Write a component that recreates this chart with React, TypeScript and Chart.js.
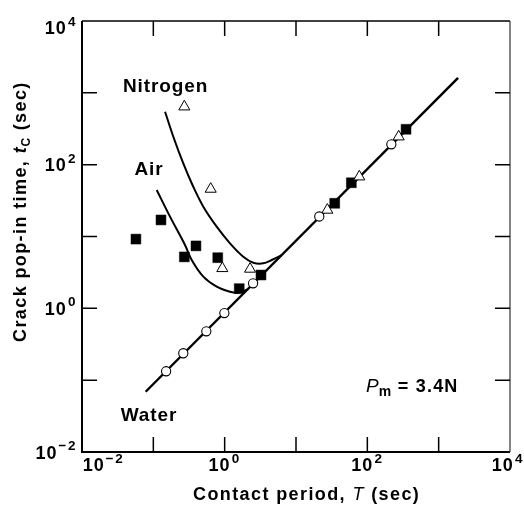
import React, { useEffect, useRef } from 'react';
import { Chart, registerables } from 'chart.js';

Chart.register(...registerables);

// Water (open circles)
const waterT = [0.151, 0.263, 0.553, 0.99, 2.5, 21.2, 217];
const waterTc = [0.133, 0.237, 0.479, 0.86, 2.23, 19.0, 192];
// Air (filled squares)
const airT = [0.057, 0.128, 0.272, 0.396, 0.8, 1.6, 3.23, 34.9, 59.7, 349];
const airTc = [9.2, 17.0, 5.2, 7.4, 5.07, 1.88, 2.91, 29, 56, 311];
// Nitrogen (open triangles)
const n2T = [0.272, 0.637, 0.927, 2.27, 27.5, 77.2, 275];
const n2Tc = [641, 45.8, 3.6, 3.53, 23.4, 68, 245];

// Fitted curves
const waterLineT = [0.078, 1870];
const waterLineTc = [0.069, 1620];
const n2CurveT = [0.146, 0.1906, 0.263, 0.363, 0.502, 0.773, 1.188, 1.825, 2.52, 3.48, 4.57, 6.3];
const n2CurveTc = [546, 245, 104.5, 49.3, 26.0, 13.7, 8.04, 5.23, 4.32, 4.23, 4.71, 5.5];
const airCurveT = [0.1115, 0.1713, 0.278, 0.345, 0.502, 0.773, 1.188, 1.553, 2.1];
const airCurveTc = [44.4, 18.9, 7.61, 4.71, 2.76, 2.0, 1.7, 1.65, 1.83];

const decadeExps = [-2, -1, 0, 1, 2, 3, 4];
const labelExps = [-2, 0, 2, 4];

const xTitleParts = ['Contact period, ', 'T', ' (sec)'];
const yTitleParts = ['Crack pop-in time, ', 't', 'C', ' (sec)'];
const curveLabels = ['Nitrogen', 'Air', 'Water'];
const loadParts = ['P', 'm', ' = 3.4N'];

const FAM = '"Liberation Sans", Arial, Helvetica, sans-serif';
const B18 = `bold 18px ${FAM}`;

const pts = (xs: number[], ys: number[]) => xs.map((x, i) => ({ x, y: ys[i] }));

function expText(e: number) {
  return e < 0 ? '\u2212' + String(-e) : String(e);
}

type Part = { t: string; font: string; dy?: number; sp?: number };

function drawRich(ctx: CanvasRenderingContext2D, parts: Part[], x: number, y: number) {
  let cx = x;
  for (const p of parts) {
    ctx.font = p.font;
    (ctx as any).letterSpacing = (p.sp ?? 1.2) + 'px';
    ctx.fillText(p.t, cx, y + (p.dy || 0));
    cx += ctx.measureText(p.t).width;
  }
}

function richWidth(ctx: CanvasRenderingContext2D, parts: Part[]) {
  let w = 0;
  for (const p of parts) {
    ctx.font = p.font;
    (ctx as any).letterSpacing = (p.sp ?? 1.2) + 'px';
    w += ctx.measureText(p.t).width;
  }
  return w;
}

function powParts(e: number): Part[] {
  return [
    { t: '10', font: B18, sp: 1 },
    { t: ' ', font: `bold 4px ${FAM}`, sp: 0 },
    { t: expText(e), font: `bold 13.5px ${FAM}`, dy: -8.4, sp: 1.5 },
  ];
}

const framePlugin = {
  id: 'framePlugin',
  beforeDraw(chart: any) {
    const { ctx, width, height } = chart;
    ctx.save();
    ctx.fillStyle = '#fff';
    ctx.fillRect(0, 0, width, height);
    ctx.restore();
  },
  afterDraw(chart: any) {
    const { ctx, chartArea } = chart;
    const { left, right, top, bottom } = chartArea;
    const xs = chart.scales.x;
    const ys = chart.scales.y;
    ctx.save();
    ctx.strokeStyle = '#000';
    ctx.fillStyle = '#000';
    ctx.lineCap = 'butt';

    // frame
    ctx.lineWidth = 2;
    ctx.beginPath();
    ctx.moveTo(left, top);
    ctx.lineTo(left, bottom);
    ctx.lineTo(right, bottom);
    ctx.stroke();
    ctx.lineWidth = 1.6;
    ctx.beginPath();
    ctx.moveTo(left, top);
    ctx.lineTo(right, top);
    ctx.stroke();
    ctx.lineWidth = 1.2;
    ctx.strokeStyle = '#333';
    ctx.beginPath();
    ctx.moveTo(right, top);
    ctx.lineTo(right, bottom);
    ctx.stroke();
    ctx.strokeStyle = '#000';

    // inward ticks
    const TL = 15;
    ctx.lineWidth = 1.5;
    for (const e of decadeExps) {
      const v = Math.pow(10, e);
      const px = xs.getPixelForValue(v);
      const py = ys.getPixelForValue(v);
      if (e > -2 && e < 4) {
        ctx.beginPath();
        ctx.moveTo(px, bottom);
        ctx.lineTo(px, bottom - TL);
        ctx.moveTo(px, top);
        ctx.lineTo(px, top + TL);
        ctx.moveTo(left, py);
        ctx.lineTo(left + TL, py);
        ctx.moveTo(right, py);
        ctx.lineTo(right - TL, py);
        ctx.stroke();
      }
    }

    // tick labels
    ctx.textBaseline = 'alphabetic';
    ctx.textAlign = 'left';
    for (const e of labelExps) {
      const v = Math.pow(10, e);
      const parts = powParts(e);
      const w = richWidth(ctx, parts);
      // y axis
      const py = Math.max(ys.getPixelForValue(v), top + 6.5);
      drawRich(ctx, parts, left - 5 - w, py + 6.5);
      // x axis
      const px = xs.getPixelForValue(v);
      let sx = px - w / 2;
      if (sx < left + 0.7) sx = left + 0.7;
      if (sx + w > chart.width) sx = chart.width - w;
      drawRich(ctx, parts, sx, bottom + 19);
    }

    // x title
    drawRich(
      ctx,
      [
        { t: xTitleParts[0], font: B18, sp: 1.4 },
        { t: xTitleParts[1], font: `italic 18px ${FAM}`, sp: 1.4 },
        { t: xTitleParts[2], font: B18, sp: 1.4 },
      ],
      193,
      500
    );

    // y title (rotated)
    ctx.save();
    ctx.translate(25.5, 342);
    ctx.rotate(-Math.PI / 2);
    drawRich(
      ctx,
      [
        { t: yTitleParts[0], font: B18, sp: 1.4 },
        { t: yTitleParts[1], font: `italic bold 18px ${FAM}`, sp: 1 },
        { t: yTitleParts[2], font: `bold 12px ${FAM}`, dy: 4, sp: 1 },
        { t: yTitleParts[3], font: B18, sp: 1.4 },
      ],
      0,
      0
    );
    ctx.restore();

    // curve labels
    const lblFont = `bold 19px ${FAM}`;
    drawRich(ctx, [{ t: curveLabels[0], font: lblFont, sp: 0.9 }], 123, 92);
    drawRich(ctx, [{ t: curveLabels[1], font: lblFont, sp: 0.9 }], 134.5, 175);
    drawRich(ctx, [{ t: curveLabels[2], font: lblFont, sp: 0.9 }], 120.7, 420.7);

    // load annotation
    drawRich(
      ctx,
      [
        { t: loadParts[0], font: `italic 19px ${FAM}`, sp: 0 },
        { t: loadParts[1], font: `bold 14px ${FAM}`, dy: 3.7, sp: 0.5 },
        { t: loadParts[2], font: B18, sp: 1.2 },
      ],
      366,
      392
    );

    ctx.restore();
  },
};

export default function App() {
  const ref = useRef<HTMLCanvasElement | null>(null);
  useEffect(() => {
    if (!ref.current) return;
    const chart = new Chart(ref.current, {
      type: 'line',
      data: {
        datasets: [
          {
            label: 'Water fit',
            data: pts(waterLineT, waterLineTc),
            borderColor: '#000',
            borderWidth: 2.4,
            pointRadius: 0,
            fill: false,
            order: 10,
          },
          {
            label: 'Nitrogen fit',
            data: pts(n2CurveT, n2CurveTc),
            borderColor: '#000',
            borderWidth: 2,
            pointRadius: 0,
            tension: 0.35,
            fill: false,
            order: 10,
          },
          {
            label: 'Air fit',
            data: pts(airCurveT, airCurveTc),
            borderColor: '#000',
            borderWidth: 2,
            pointRadius: 0,
            tension: 0.35,
            fill: false,
            order: 10,
          },
          {
            label: 'Air',
            data: pts(airT, airTc),
            showLine: false,
            pointStyle: 'rect',
            pointRadius: 7,
            pointBackgroundColor: '#000',
            pointBorderColor: '#000',
            pointBorderWidth: 0.5,
            order: 3,
          },
          {
            label: 'Nitrogen',
            data: pts(n2T, n2Tc),
            showLine: false,
            pointStyle: 'triangle',
            pointRadius: 6.4,
            pointBackgroundColor: '#fff',
            pointBorderColor: '#000',
            pointBorderWidth: 1,
            order: 2,
          },
          {
            label: 'Water',
            data: pts(waterT, waterTc),
            showLine: false,
            pointStyle: 'circle',
            pointRadius: 4.6,
            pointBackgroundColor: '#fff',
            pointBorderColor: '#000',
            pointBorderWidth: 1.1,
            order: 1,
          },
        ],
      },
      options: {
        responsive: false,
        animation: false,
        events: [],
        layout: { padding: { left: 82, top: 21, right: 14, bottom: 55 } },
        plugins: { legend: { display: false }, tooltip: { enabled: false } },
        scales: {
          x: { type: 'logarithmic', min: 0.01, max: 10000, display: false },
          y: { type: 'logarithmic', min: 0.01, max: 10000, display: false },
        },
      },
      plugins: [framePlugin],
    });
    return () => chart.destroy();
  }, []);
  return (
    <div style={{ position: 'absolute', left: 0, top: 0, width: 524, height: 507 }}>
      <canvas ref={ref} width={524} height={507} style={{ width: 524, height: 507, display: 'block' }} />
    </div>
  );
}
